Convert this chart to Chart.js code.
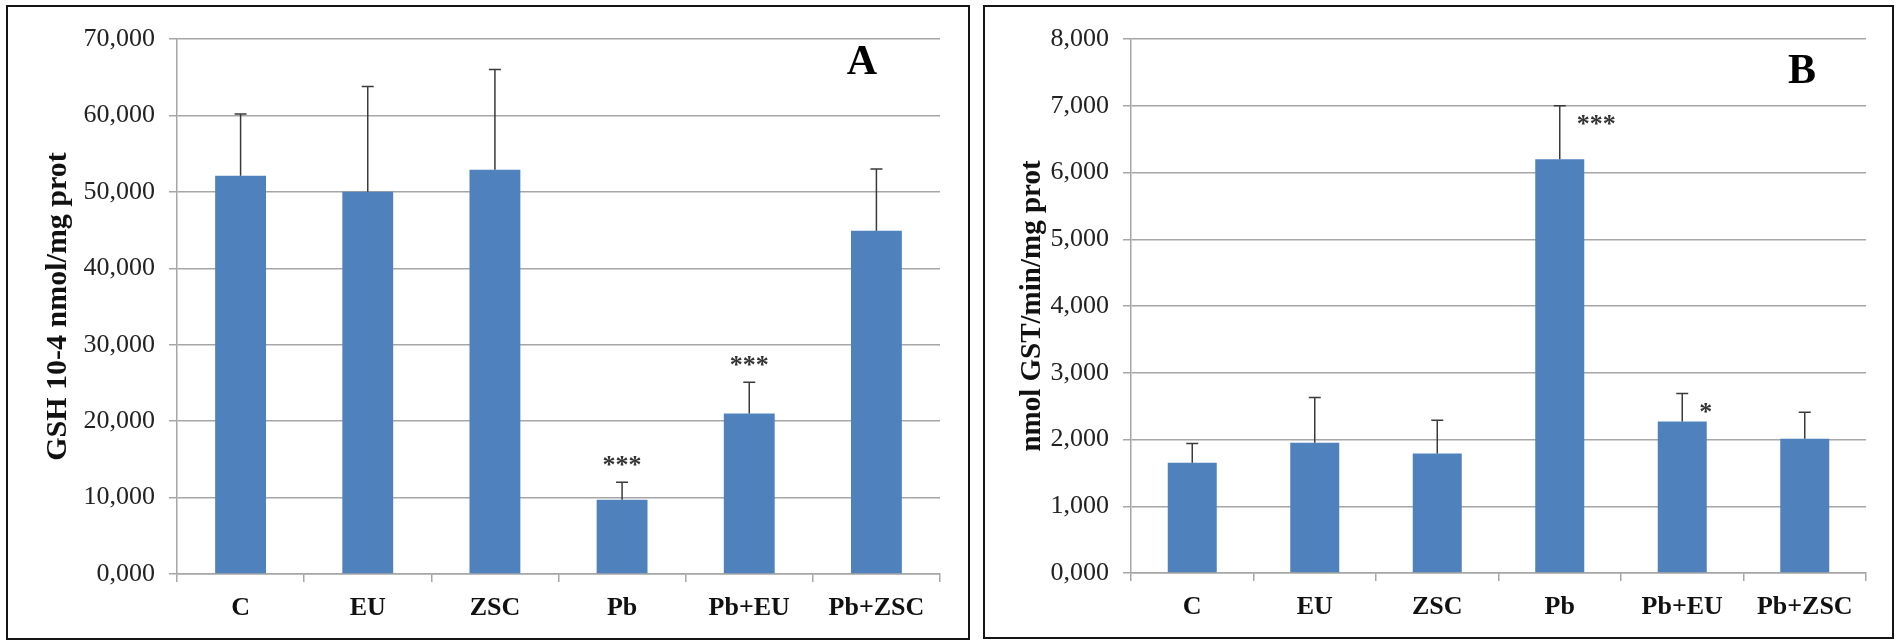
<!DOCTYPE html>
<html>
<head>
<meta charset="utf-8">
<script src="https://cdn.jsdelivr.net/npm/chart.js@4/dist/chart.umd.min.js"></script>
<style>
    body { margin: 0; background: #fff; width: 1896px; height: 641px; position: relative; overflow: hidden; }
    .marco { position: absolute; box-sizing: border-box; border: 2.5px solid #151515; }
    canvas { position: absolute; top: 0; }
</style>
</head>
<body>
<div class="marco" style="left:6px; top:5px; width:964px; height:635px;"></div>
<div class="marco" style="left:983px; top:5px; width:911px; height:634px;"></div>
<canvas id="graficoGSH" width="975" height="641" style="left:0; width:975px; height:641px;"></canvas>
<canvas id="graficoGST" width="921" height="641" style="left:975px; width:921px; height:641px;"></canvas>
<script>
// Grupos experimentales
const grupos = ['C', 'EU', 'ZSC', 'Pb', 'Pb+EU', 'Pb+ZSC'];

// Panel A: GSH (10-4 nmol/mg prot), media y error
const gshMedia = [52.1, 50.0, 52.9, 9.7, 21.0, 44.9];
const gshError = [8.1, 13.8, 13.1, 2.3, 4.1, 8.1];
const gshSignif = ['', '', '', '***', '***', ''];

// Panel B: GST (nmol/min/mg prot), media y error
const gstMedia = [1.65, 1.95, 1.79, 6.2, 2.27, 2.01];
const gstError = [0.29, 0.68, 0.5, 0.8, 0.42, 0.4];
const gstSignif = ['', '', '', '***', '*', ''];

const AZUL = '#4F81BD';
const GRIS = '#a6a6a6';
const SERIF = '"Liberation Serif", "Times New Roman", serif';

// Barras de error (solo hacia arriba) y asteriscos de significancia
const barrasError = {
    id: 'barrasError',
    afterDatasetsDraw(chart, args, opts) {
        const ctx = chart.ctx;
        const y = chart.scales.y;
        const meta = chart.getDatasetMeta(0);
        const datos = chart.data.datasets[0].data;
        ctx.save();
        meta.data.forEach((barra, i) => {
            const tope = y.getPixelForValue(datos[i] + opts.errores[i]);
            ctx.strokeStyle = '#3a3a3a';
            ctx.lineWidth = 1.5;
            ctx.beginPath();
            ctx.moveTo(barra.x, barra.y);
            ctx.lineTo(barra.x, tope);
            ctx.moveTo(barra.x - 6, tope);
            ctx.lineTo(barra.x + 6, tope);
            ctx.stroke();

            const marca = opts.marcas[i];
            if (!marca) return;
            ctx.fillStyle = '#333';
            ctx.font = 'bold 26px ' + SERIF;
            ctx.textBaseline = 'middle';
            if (opts.lado === 'arriba') {
                ctx.textAlign = 'center';
                ctx.fillText(marca, barra.x, tope - 16);
            } else {
                ctx.textAlign = 'left';
                ctx.fillText(marca, barra.x + 17, tope + 20);
            }
        });
        ctx.restore();
    }
};

// Letra del panel (A / B)
const letraPanel = {
    id: 'letraPanel',
    afterDraw(chart, args, opts) {
        const ctx = chart.ctx;
        const area = chart.chartArea;
        ctx.save();
        ctx.fillStyle = '#000';
        ctx.font = 'bold 42px ' + SERIF;
        ctx.textAlign = 'center';
        ctx.textBaseline = 'middle';
        ctx.fillText(opts.texto, area.right - opts.dx, area.top + opts.dy);
        ctx.restore();
    }
};

const formatoComa = v => v.toFixed(3).replace('.', ',');

function crearGrafico(id, media, errores, marcas, cfg) {
    const ctx = document.getElementById(id).getContext('2d');
    return new Chart(ctx, {
        type: 'bar',
        data: {
            labels: grupos,
            datasets: [{
                data: media,
                backgroundColor: AZUL,
                borderWidth: 0,
                barPercentage: 0.4,
                categoryPercentage: 1.0
            }]
        },
        options: {
            responsive: false,
            animation: false,
            events: [],
            layout: { padding: { left: 0, top: 39, right: cfg.derecha, bottom: 0 } },
            plugins: {
                legend: { display: false },
                tooltip: { enabled: false },
                barrasError: { errores: errores, marcas: marcas, lado: cfg.lado },
                letraPanel: { texto: cfg.letra, dx: cfg.letraDx, dy: cfg.letraDy }
            },
            scales: {
                x: {
                    grid: { drawOnChartArea: false, drawTicks: true, tickLength: 8, color: GRIS, lineWidth: 1.5 },
                    border: { color: GRIS, width: 1.5 },
                    ticks: {
                        color: '#111',
                        padding: 11,
                        font: { family: SERIF, size: 26, weight: 'bold' }
                    },
                    afterFit: s => { s.height = cfg.altoX; }
                },
                y: {
                    min: 0,
                    max: cfg.max,
                    ticks: {
                        stepSize: cfg.paso,
                        color: '#222',
                        padding: 14,
                        callback: formatoComa,
                        font: { family: SERIF, size: 26 }
                    },
                    grid: { color: GRIS, lineWidth: 1.5, tickLength: 8 },
                    border: { color: GRIS, width: 1.5 },
                    title: {
                        display: true,
                        text: cfg.titulo,
                        color: '#111',
                        padding: { top: 58 - cfg.tituloTam * 0.6, bottom: 0 },
                        font: { family: SERIF, size: cfg.tituloTam, weight: 'bold' }
                    },
                    afterFit: s => { s.width = cfg.anchoY; }
                }
            }
        },
        plugins: [barrasError, letraPanel]
    });
}

crearGrafico('graficoGSH', gshMedia, gshError, gshSignif, {
    max: 70, paso: 10, titulo: 'GSH 10-4 nmol/mg prot', letra: 'A', tituloTam: 30,
    anchoY: 177, derecha: 35, altoX: 67, lado: 'arriba', letraDx: 78, letraDy: 24
});

crearGrafico('graficoGST', gstMedia, gstError, gstSignif, {
    max: 8, paso: 1, titulo: 'nmol GST/min/mg prot', letra: 'B', tituloTam: 29,
    anchoY: 156, derecha: 30, altoX: 68, lado: 'derecha', letraDx: 64, letraDy: 33
});
</script>
</body>
</html>
